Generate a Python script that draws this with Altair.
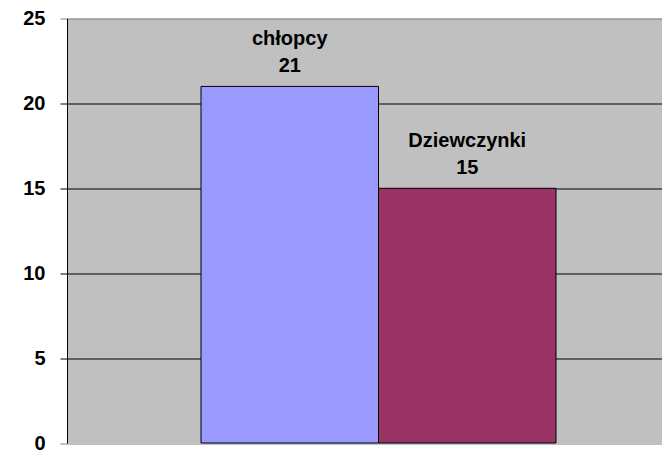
import altair as alt
import pandas as pd

categories = ["chłopcy", "Dziewczynki"]
values = [21, 15]
colors = ["#9999FF", "#993366"]

df = pd.DataFrame({"grupa": categories, "liczba": values})

W = 595
H = 424.5
left_space, band_total = 134, 355
right_space = W - left_space - band_total
step = band_total / 2
pad_outer = (W / step - 2) / 2
align = left_space / (left_space + right_space)

x_enc = alt.X("grupa:N", sort=categories, axis=None,
              scale=alt.Scale(paddingInner=0, paddingOuter=pad_outer, align=align))
y_scale = alt.Scale(domain=[0, 25], nice=False, zero=True)

FONT = "Liberation Sans"
FS = 20
edge = {"test": "datum.value == 0 || datum.value == 25", "value": "#808080"}

bars = alt.Chart(df).mark_bar(stroke="black", strokeWidth=1).encode(
    x=x_enc,
    y=alt.Y("liczba:Q", scale=y_scale, title=None,
            axis=alt.Axis(values=[0, 5, 10, 15, 20, 25], tickSize=7, labelPadding=15,
                          labelFont=FONT, labelFontSize=FS, labelFontWeight="bold",
                          labelColor="black", domainColor="black", domainWidth=1,
                          gridColor={"condition": edge, "value": "black"},
                          tickColor={"condition": edge, "value": "black"},
                          gridWidth=1, tickWidth=1, grid=True)),
    color=alt.Color("grupa:N", scale=alt.Scale(domain=categories, range=colors), legend=None),
)

val_text = alt.Chart(df).mark_text(font=FONT, fontSize=FS, fontWeight="bold", dy=-14,
                                   baseline="alphabetic", align="center", color="black").encode(
    x=x_enc, y=alt.Y("liczba:Q", scale=y_scale), text="liczba:Q")

name_text = alt.Chart(df).mark_text(font=FONT, fontSize=FS, fontWeight="bold", dy=-41,
                                    baseline="alphabetic", align="center", color="black").encode(
    x=x_enc, y=alt.Y("liczba:Q", scale=y_scale), text="grupa:N")

chart = alt.layer(bars, name_text, val_text).properties(
    width=W, height=H,
    autosize=alt.AutoSizeParams(type="none"),
    padding={"left": 59, "top": 10.5, "right": 0, "bottom": 12},
    background="white",
).configure_view(fill="#C0C0C0", stroke=None)

chart.save("out.html", embed_options={"renderer": "svg", "actions": False})
